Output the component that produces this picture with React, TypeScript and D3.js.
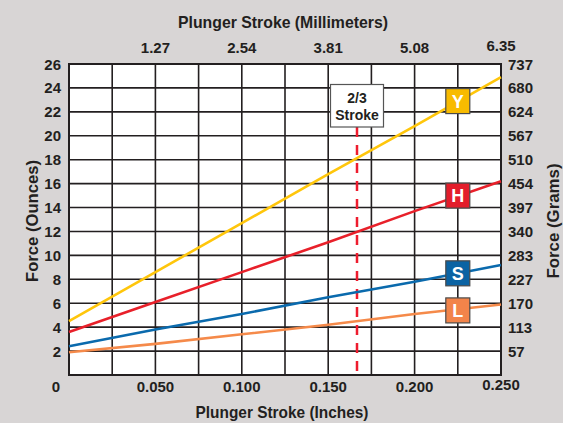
import React from "react";
import * as d3 from "d3";

const strokeIn = [0, 0.05, 0.1, 0.15, 0.2, 0.25];
const seriesY = [4.5, 8.6, 12.7, 16.8, 20.8, 24.9];
const seriesH = [3.6, 6.1, 8.6, 11.1, 13.7, 16.2];
const seriesS = [2.4, 3.8, 5.1, 6.5, 7.8, 9.2];
const seriesL = [1.9, 2.6, 3.4, 4.2, 5.1, 5.9];
const seriesNames = ["Y", "H", "S", "L"];
const labelOz = [22.9, 15.0, 8.5, 5.4];
const labelX = 0.225;
const twoThirdStroke = 0.25 * 2 / 3;

const ozTicks = [2, 4, 6, 8, 10, 12, 14, 16, 18, 20, 22, 24, 26];
const gramLabels = ["57", "113", "170", "227", "283", "340", "397", "454", "510", "567", "624", "680", "737"];
const inchTicks = [0.05, 0.1, 0.15, 0.2, 0.25];
const inchLabels = ["0.050", "0.100", "0.150", "0.200", "0.250"];
const mmLabels = ["1.27", "2.54", "3.81", "5.08", "6.35"];
const vGrid = [0.025, 0.05, 0.075, 0.1, 0.125, 0.15, 0.175, 0.2, 0.225];
const hGrid = [2, 4, 6, 8, 10, 12, 14, 16, 18, 20, 22, 24];

const lineColors = ["#ffc60b", "#e8202a", "#0a6aad", "#f58a4a"];
const boxColors = ["#f8bb00", "#e31d2b", "#0b63a3", "#f2844a"];

const W = 563, H = 423;
const L0 = 69, R0 = 501, T0 = 64, B0 = 375;
const ink = "#231f20";
const tickFont = "'Liberation Sans', Arial, sans-serif";
const titleFont = "'Liberation Sans', Arial, sans-serif";

export default function App() {
  const x = d3.scaleLinear().domain([0, 0.25]).range([L0, R0]);
  const y = d3.scaleLinear().domain([0, 26]).range([B0, T0]);
  const all = [seriesY, seriesH, seriesS, seriesL];
  const line = d3.line<number>().x((_, i) => x(strokeIn[i])).y((d) => y(d));
  const sx = x(twoThirdStroke);
  const tk = { fill: ink, fontFamily: tickFont, fontWeight: "bold", fontSize: 15 } as const;
  const tt = { fill: ink, fontFamily: titleFont, fontWeight: "bold", fontSize: 17, lengthAdjust: "spacingAndGlyphs" } as const;
  return (
    <svg width={W} height={H} style={{ position: "absolute", left: 0, top: 0 }}>
      <rect x={0} y={0} width={W} height={H} fill="#d8d5d5" />
      <rect x={L0} y={T0} width={R0 - L0} height={B0 - T0} fill="#fff" />
      {vGrid.map((v) => (
        <line key={"v" + v} x1={x(v)} x2={x(v)} y1={T0} y2={B0} stroke={ink} strokeWidth={1.6} />
      ))}
      {hGrid.map((v) => (
        <line key={"h" + v} x1={L0} x2={R0} y1={y(v)} y2={y(v)} stroke={ink} strokeWidth={1.6} />
      ))}
      <rect x={L0} y={T0} width={R0 - L0} height={B0 - T0} fill="none" stroke={ink} strokeWidth={2} />
      <line x1={sx} x2={sx} y1={127} y2={B0} stroke="#ee1c2e" strokeWidth={2.5} strokeDasharray="10,8" />
      {all.map((s, i) => (
        <path key={i} d={line(s) || ""} fill="none" stroke={lineColors[i]} strokeWidth={2.6} />
      ))}
      {seriesNames.map((n, i) => (
        <g key={n}>
          <rect x={x(labelX) - 12} y={y(labelOz[i]) - 12.5} width={24} height={25} fill={boxColors[i]} stroke="#4a4a4a" strokeWidth={1.2} />
          <text x={x(labelX)} y={y(labelOz[i]) + 6.5} textAnchor="middle" fill="#fff" fontFamily={tickFont} fontWeight="bold" fontSize={18}>{n}</text>
        </g>
      ))}
      <rect x={sx - 26.5} y={84.5} width={53} height={42.5} fill="#fff" stroke="#555" strokeWidth={1.2} />
      <text x={sx} y={103} textAnchor="middle" fill={ink} fontFamily={tickFont} fontWeight="bold" fontSize={14}>2/3</text>
      <text x={sx} y={119.5} textAnchor="middle" fill={ink} fontFamily={tickFont} fontWeight="bold" fontSize={14}>Stroke</text>
      {ozTicks.map((v) => (
        <text key={"l" + v} x={61} y={y(v) + 5.5} textAnchor="end" {...tk}>{v}</text>
      ))}
      {ozTicks.map((v, i) => (
        <text key={"r" + v} x={508} y={y(v) + 5.5} textAnchor="start" {...tk}>{gramLabels[i]}</text>
      ))}
      <text x={56} y={392} textAnchor="middle" {...tk}>0</text>
      {inchTicks.map((v, i) => (
        <text key={"b" + v} x={x(v)} y={i === 4 ? 390 : 392} textAnchor="middle" {...tk}>{inchLabels[i]}</text>
      ))}
      {inchTicks.map((v, i) => (
        <text key={"t" + v} x={x(v)} y={i === 4 ? 51 : 52.5} textAnchor="middle" {...tk}>{mmLabels[i]}</text>
      ))}
      <text x={283} y={28} textAnchor="middle" textLength={210} {...tt}>Plunger Stroke (Millimeters)</text>
      <text x={282} y={418} textAnchor="middle" textLength={173} {...tt}>Plunger Stroke (Inches)</text>
      <text transform={`translate(38,221) rotate(-90)`} textAnchor="middle" textLength={122} {...tt}>Force (Ounces)</text>
      <text transform={`translate(559,221) rotate(-90)`} textAnchor="middle" textLength={115} {...tt}>Force (Grams)</text>
    </svg>
  );
}
